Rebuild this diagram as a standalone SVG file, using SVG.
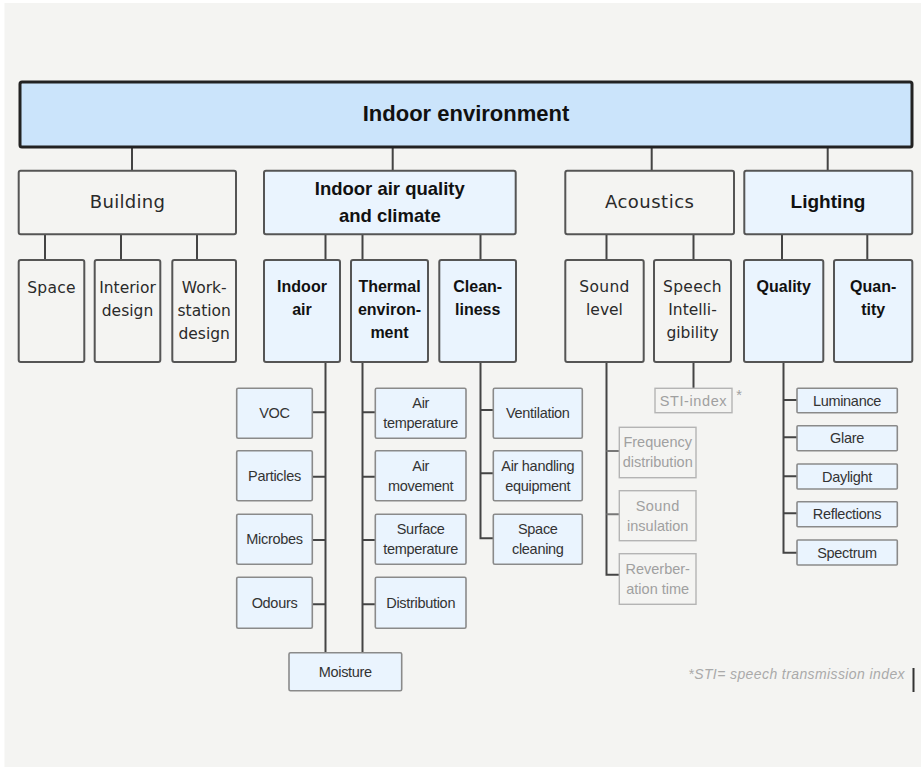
<svg xmlns="http://www.w3.org/2000/svg" width="921" height="769" viewBox="0 0 921 769">
<style>
.bg{fill:#f4f4f2}
.top{fill:#cbe4fb;stroke:#222;stroke-width:3}
.l2{fill:#f4f4f2;stroke:#555;stroke-width:2}
.l2b{fill:#eaf4fe;stroke:#555;stroke-width:2}
.l4{fill:#eaf4fe;stroke:#8a8a8a;stroke-width:1.6}
.l4g{fill:none;stroke:#b4b4b4;stroke-width:1.4}
.c{stroke:#444;stroke-width:2;fill:none}
.cg{stroke:#777;stroke-width:2;fill:none}
.tb{font-family:"Liberation Sans",Arial,sans-serif;font-weight:bold;fill:#111;text-anchor:middle}
.tr{font-family:"DejaVu Sans",sans-serif;fill:#2a2a2a;text-anchor:middle}
.t4{font-family:"Liberation Sans",Arial,sans-serif;font-size:14.5px;fill:#333;text-anchor:middle;letter-spacing:-0.3px}
.t4g{font-family:"Liberation Sans",Arial,sans-serif;font-size:14.5px;fill:#a0a0a0;text-anchor:middle}
</style>
<rect class="bg" x="4.5" y="3" width="917" height="764"/>

<g id="connectors">
<path class="c" d="M132 147V171M392.7 147V171M651.7 147V171M827.7 147V171"/>
<path class="c" d="M45 234V260M121 234V260M197 234V260"/>
<path class="c" d="M325.5 234V260M362.5 234V260M480.5 234V260"/>
<path class="c" d="M606.5 234V260M693.5 234V260"/>
<path class="c" d="M782 234V260M867.3 234V260"/>
<path class="c" d="M325.5 362V653M312.3 412.3H325.5M312.3 476.7H325.5M312.3 540H325.5M312.3 604.3H325.5"/>
<path class="c" d="M362.5 362V653M362.5 412.3H375.3M362.5 476.7H375.3M362.5 540H375.3M362.5 604.3H375.3"/>
<path class="c" d="M480.5 362V538.3H493.3M480.5 410H493.3M480.5 473.3H493.3"/>
<path class="c" d="M606.5 362V574.7H619.3"/>
<path class="cg" d="M606.5 451H619.3M606.5 514.3H619.3"/>
<path class="c" d="M693.5 362V388.3"/>
<path class="c" d="M783.5 362V552.7H797M783.5 400H797M783.5 437.3H797M783.5 476.3H797M783.5 513.3H797"/>
</g>

<g id="indoor-environment">
<rect class="top" x="20" y="82" width="892" height="65" rx="2"/>
<text class="tb" x="466" y="121" font-size="22">Indoor environment</text>
</g>

<g id="building">
<rect class="l2" x="18.7" y="170.7" width="217.3" height="63.6" rx="2"/>
<text class="tr" x="127.5" y="208" font-size="18" letter-spacing="0.3">Building</text>
</g>
<g id="iaq">
<rect class="l2b" x="264" y="170.7" width="251.7" height="63.6" rx="2"/>
<text class="tb" x="389.8" y="195" font-size="18.5">Indoor air quality</text>
<text class="tb" x="389.8" y="221.5" font-size="18.5">and climate</text>
</g>
<g id="acoustics">
<rect class="l2" x="565.3" y="170.7" width="168.7" height="63.6" rx="2"/>
<text class="tr" x="649.7" y="208" font-size="18" letter-spacing="0.5">Acoustics</text>
</g>
<g id="lighting">
<rect class="l2b" x="744.3" y="170.7" width="168" height="63.6" rx="2"/>
<text class="tb" x="828" y="208" font-size="19">Lighting</text>
</g>

<g id="space">
<rect class="l2" x="18.7" y="260" width="65.6" height="102" rx="2"/>
<text class="tr" x="51.5" y="292.5" font-size="15.5" letter-spacing="0.3">Space</text>
</g>
<g id="interior-design">
<rect class="l2" x="94.7" y="260" width="65.6" height="102" rx="2"/>
<text class="tr" x="127.5" y="292.5" font-size="15.5">Interior</text>
<text class="tr" x="127.5" y="315.5" font-size="15.5">design</text>
</g>
<g id="workstation-design">
<rect class="l2" x="172.3" y="260" width="63.7" height="102" rx="2"/>
<text class="tr" x="204.2" y="292.5" font-size="15.5">Work-</text>
<text class="tr" x="204.2" y="315.5" font-size="15.5">station</text>
<text class="tr" x="204.2" y="338.5" font-size="15.5">design</text>
</g>
<g id="indoor-air">
<rect class="l2b" x="264" y="260" width="76" height="102" rx="2"/>
<text class="tb" x="302" y="292" font-size="16">Indoor</text>
<text class="tb" x="302" y="315" font-size="16">air</text>
</g>
<g id="thermal-environment">
<rect class="l2b" x="351" y="260" width="77" height="102" rx="2"/>
<text class="tb" x="389.5" y="292" font-size="16">Thermal</text>
<text class="tb" x="389.5" y="315" font-size="16">environ-</text>
<text class="tb" x="389.5" y="338" font-size="16">ment</text>
</g>
<g id="cleanliness">
<rect class="l2b" x="439.3" y="260" width="76.7" height="102" rx="2"/>
<text class="tb" x="477.7" y="292" font-size="16">Clean-</text>
<text class="tb" x="477.7" y="315" font-size="16">liness</text>
</g>
<g id="sound-level">
<rect class="l2" x="565.3" y="260" width="78.4" height="102" rx="2"/>
<text class="tr" x="604.5" y="292" font-size="15.5" letter-spacing="0.3">Sound</text>
<text class="tr" x="604.5" y="315" font-size="15.5">level</text>
</g>
<g id="speech-intelligibility">
<rect class="l2" x="654" y="260" width="77" height="102" rx="2"/>
<text class="tr" x="692.5" y="292" font-size="15.5" letter-spacing="0.3">Speech</text>
<text class="tr" x="692.5" y="315" font-size="15.5">Intelli-</text>
<text class="tr" x="692.5" y="338" font-size="15.5">gibility</text>
</g>
<g id="quality">
<rect class="l2b" x="744" y="260" width="79.3" height="102" rx="2"/>
<text class="tb" x="783.7" y="292" font-size="16">Quality</text>
</g>
<g id="quantity">
<rect class="l2b" x="834" y="260" width="78.3" height="102" rx="2"/>
<text class="tb" x="873.2" y="292" font-size="16">Quan-</text>
<text class="tb" x="873.2" y="315" font-size="16">tity</text>
</g>

<g id="voc">
<rect class="l4" x="236.7" y="388.3" width="75.6" height="50" rx="1.5"/>
<text class="t4" x="274.5" y="418.3">VOC</text>
</g>
<g id="particles">
<rect class="l4" x="236.7" y="450.7" width="75.6" height="50" rx="1.5"/>
<text class="t4" x="274.5" y="480.7">Particles</text>
</g>
<g id="microbes">
<rect class="l4" x="236.7" y="514.3" width="75.6" height="50" rx="1.5"/>
<text class="t4" x="274.5" y="544.3">Microbes</text>
</g>
<g id="odours">
<rect class="l4" x="236.7" y="577.3" width="75.6" height="51" rx="1.5"/>
<text class="t4" x="274.5" y="607.8">Odours</text>
</g>
<g id="moisture">
<rect class="l4" x="289" y="652.7" width="112.7" height="38" rx="1.5"/>
<text class="t4" x="345.3" y="677">Moisture</text>
</g>

<g id="air-temperature">
<rect class="l4" x="375.3" y="388.3" width="90.7" height="50" rx="1.5"/>
<text class="t4" x="420.7" y="408.3">Air</text>
<text class="t4" x="420.7" y="428.3">temperature</text>
</g>
<g id="air-movement">
<rect class="l4" x="375.3" y="450.7" width="90.7" height="50" rx="1.5"/>
<text class="t4" x="420.7" y="470.7">Air</text>
<text class="t4" x="420.7" y="490.7">movement</text>
</g>
<g id="surface-temperature">
<rect class="l4" x="375.3" y="514.3" width="90.7" height="50" rx="1.5"/>
<text class="t4" x="420.7" y="534.3">Surface</text>
<text class="t4" x="420.7" y="554.3">temperature</text>
</g>
<g id="distribution">
<rect class="l4" x="375.3" y="577.3" width="90.7" height="51" rx="1.5"/>
<text class="t4" x="420.7" y="607.8">Distribution</text>
</g>

<g id="ventilation">
<rect class="l4" x="493.3" y="388.3" width="89" height="50" rx="1.5"/>
<text class="t4" x="537.8" y="418.3">Ventilation</text>
</g>
<g id="air-handling-equipment">
<rect class="l4" x="493.3" y="450.7" width="89" height="50" rx="1.5"/>
<text class="t4" x="537.8" y="470.7">Air handling</text>
<text class="t4" x="537.8" y="490.7">equipment</text>
</g>
<g id="space-cleaning">
<rect class="l4" x="493.3" y="514.3" width="89" height="50" rx="1.5"/>
<text class="t4" x="537.8" y="534.3">Space</text>
<text class="t4" x="537.8" y="554.3">cleaning</text>
</g>

<g id="sti-index">
<rect class="l4g" x="655" y="388.3" width="77" height="24.4"/>
<text class="t4g" x="693.5" y="405.5" letter-spacing="0.6">STI-index</text>
<text class="t4g" x="739" y="400" font-size="12">*</text>
</g>
<g id="frequency-distribution">
<rect class="l4g" x="619.3" y="427.3" width="76.7" height="50.4"/>
<text class="t4g" x="657.7" y="447" font-size="14">Frequency</text>
<text class="t4g" x="657.7" y="467" font-size="14">distribution</text>
</g>
<g id="sound-insulation">
<rect class="l4g" x="619.3" y="490.7" width="76.7" height="50"/>
<text class="t4g" x="657.7" y="510.7" font-size="14" letter-spacing="0.4">Sound</text>
<text class="t4g" x="657.7" y="530.7" font-size="14">insulation</text>
</g>
<g id="reverberation-time">
<rect class="l4g" x="619.3" y="553.7" width="76.7" height="50.6"/>
<text class="t4g" x="657.7" y="574" font-size="14">Reverber-</text>
<text class="t4g" x="657.7" y="594" font-size="14">ation time</text>
</g>

<g id="luminance">
<rect class="l4" x="797" y="388.3" width="100.3" height="24.4" rx="1"/>
<text class="t4" x="847" y="405.5">Luminance</text>
</g>
<g id="glare">
<rect class="l4" x="797" y="425.7" width="100.3" height="25" rx="1"/>
<text class="t4" x="847" y="443">Glare</text>
</g>
<g id="daylight">
<rect class="l4" x="797" y="464" width="100.3" height="25" rx="1"/>
<text class="t4" x="847" y="481.5">Daylight</text>
</g>
<g id="reflections">
<rect class="l4" x="797" y="501.7" width="100.3" height="25" rx="1"/>
<text class="t4" x="847" y="519">Reflections</text>
</g>
<g id="spectrum">
<rect class="l4" x="797" y="540" width="100.3" height="25" rx="1"/>
<text class="t4" x="847" y="557.5">Spectrum</text>
</g>

<g id="footnote">
<text x="905" y="679" font-family="Liberation Sans,Arial,sans-serif" font-style="italic" font-size="14" fill="#aaa" text-anchor="end" letter-spacing="0.4">*STI= speech transmission index</text>
<line x1="913.5" y1="668" x2="913.5" y2="692" stroke="#333" stroke-width="2"/>
</g>
</svg>
